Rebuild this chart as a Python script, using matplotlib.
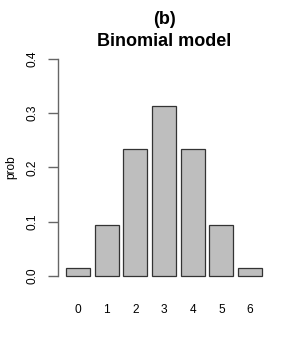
import numpy as np
import matplotlib
matplotlib.use("Agg")
import matplotlib.pyplot as plt

plt.rcParams['font.family'] = ['Liberation Sans', 'DejaVu Sans']

# valores de la distribución binomial (n=6, p=0.5)
categorias = ['0', '1', '2', '3', '4', '5', '6']
prob = [0.015625, 0.09375, 0.234375, 0.3125, 0.234375, 0.09375, 0.015625]
yticks = [0.0, 0.1, 0.2, 0.3, 0.4]

fig = plt.figure(figsize=(3, 3.5), dpi=100)
W, H = 300, 350
# región de trazado en píxeles
x0, x1 = 58.2, 269.8
ytop, ybot = 50.3, 284.7
ax = fig.add_axes([x0 / W, 1 - ybot / H, (x1 - x0) / W, (ybot - ytop) / H])

# posiciones estilo barplot de R: ancho 1, espacio 0.2
pos = 0.2 + np.arange(len(prob)) * 1.2 + 0.5
ax.bar(pos, prob, width=1.0, color='#bebebe', edgecolor='#333333', linewidth=0.9)

ax.set_xlim(-0.128, 8.728)
ax.set_ylim(-0.016, 0.416)

for s in ['top', 'right', 'bottom']:
    ax.spines[s].set_visible(False)
ax.spines['left'].set_bounds(0, 0.4)
ax.spines['left'].set_color('#666666')
ax.spines['left'].set_linewidth(1.0)

ax.set_yticks(yticks)
ax.set_yticklabels([f"{v:.1f}" for v in yticks], rotation=90, va='center', fontsize=8.6)
ax.tick_params(axis='y', length=7, width=1.0, color='#666666', pad=7)

ax.set_xticks(pos)
ax.set_xticklabels(categorias, fontsize=8.6)
ax.tick_params(axis='x', length=0, pad=14)

# etiqueta del eje y colocada a mano
fig.text(11 / W, 1 - 167 / H, 'prob', rotation=90, ha='center', va='center', fontsize=8.6)

fig.text((x0 + x1) / 2 / W, 1 - 19 / H, '(b)', ha='center', va='center',
         fontsize=13, fontweight='bold')
fig.text((x0 + x1) / 2 / W, 1 - 42 / H, 'Binomial model', ha='center', va='center',
         fontsize=13, fontweight='bold')

fig.savefig('out.png', dpi=100)
